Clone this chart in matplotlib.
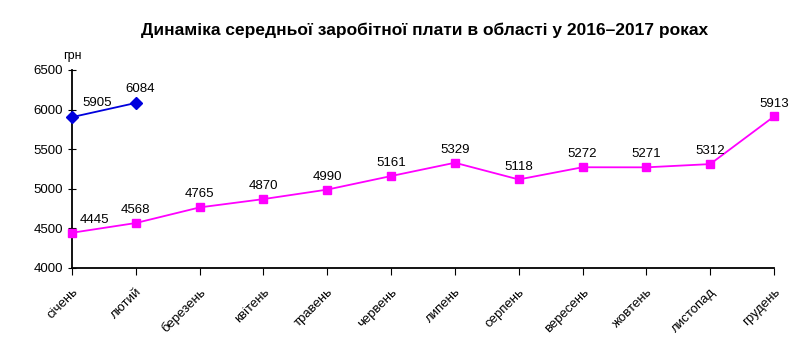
import matplotlib.pyplot as plt

plt.rcParams['font.family'] = ['Liberation Sans', 'DejaVu Sans']

months = ['січень', 'лютий', 'березень', 'квітень', 'травень', 'червень',
          'липень', 'серпень', 'вересень', 'жовтень', 'листопад', 'грудень']
wage_2016 = [4445, 4568, 4765, 4870, 4990, 5161, 5329, 5118, 5272, 5271, 5312, 5913]
wage_2017 = [5905, 6084]
title = 'Динаміка середньої заробітної плати в області у 2016–2017 роках'

fig = plt.figure(figsize=(7.98, 3.38), dpi=100)
ax = fig.add_axes([72 / 798, 70 / 338, (774 - 72) / 798, (268 - 70) / 338])

x16 = list(range(len(wage_2016)))
x17 = list(range(len(wage_2017)))
ax.plot(x16, wage_2016, color='#ff00ff', lw=1.3, marker='s', ms=6, clip_on=False, zorder=3)
ax.plot(x17, wage_2017, color='#0000dd', lw=1.3, marker='D', ms=6, clip_on=False, zorder=3)

for i, v in enumerate(wage_2016):
    dx = 16 if i == 0 else 0
    ax.annotate(str(v), (i, v), xytext=(dx, 5), textcoords='offset points',
                ha='center', va='bottom', fontsize=9.5)
for i, v in enumerate(wage_2017):
    dx = 18 if i == 0 else 3
    ax.annotate(str(v), (i, v), xytext=(dx, 6), textcoords='offset points',
                ha='center', va='bottom', fontsize=9.5)

ax.set_xlim(0, 11)
ax.set_ylim(4000, 6500)
ax.set_yticks(range(4000, 6501, 500))
ax.set_xticks(x16)
ax.set_xticklabels(months, rotation=45, ha='right', rotation_mode='anchor', fontsize=9.5)
ax.tick_params(axis='y', direction='inout', length=6, labelsize=9.5)
ax.tick_params(axis='x', direction='out', length=5, pad=8)
for s in ['top', 'right']:
    ax.spines[s].set_visible(False)
for s in ['left', 'bottom']:
    ax.spines[s].set_linewidth(1.3)

ax.text(0, 1.04, 'грн', transform=ax.transAxes, ha='center', va='bottom', fontsize=9)
fig.text(425 / 798, 1 - 30 / 338, title, ha='center', va='center', fontsize=12.5, fontweight='bold')

fig.savefig('out.png', dpi=100)
